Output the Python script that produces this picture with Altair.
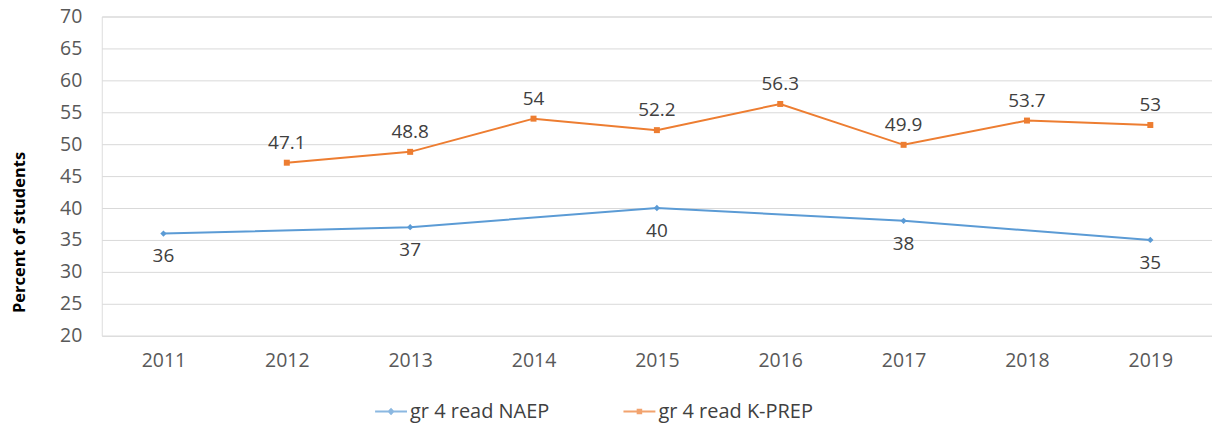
import altair as alt
import pandas as pd

years = ["2011", "2012", "2013", "2014", "2015", "2016", "2017", "2018", "2019"]
naep_years = ["2011", "2013", "2015", "2017", "2019"]
naep_values = [36, 37, 40, 38, 35]
kprep_years = ["2012", "2013", "2014", "2015", "2016", "2017", "2018", "2019"]
kprep_values = [47.1, 48.8, 54, 52.2, 56.3, 49.9, 53.7, 53]
series_names = ["gr 4 read NAEP", "gr 4 read K-PREP"]
series_colors = ["#5b9bd5", "#ed7d31"]
y_ticks = [20, 25, 30, 35, 40, 45, 50, 55, 60, 65, 70]

FONT = "Open Sans"

naep = pd.DataFrame({"year": naep_years, "value": naep_values, "series": series_names[0]})
kprep = pd.DataFrame({"year": kprep_years, "value": kprep_values, "series": series_names[1]})
df = pd.concat([naep, kprep], ignore_index=True)

x_enc = alt.X(
    "year:O",
    scale=alt.Scale(type="point", domain=years, padding=0.5),
    axis=alt.Axis(title=None, labelAngle=0, ticks=False, domain=False, grid=False,
                  labelPadding=16, labelFontSize=19.5, labelColor="#595959", labelFont=FONT),
)
y_enc = alt.Y(
    "value:Q",
    scale=alt.Scale(domain=[20, 70], nice=False, zero=False),
    axis=alt.Axis(values=y_ticks, title="Percent of students", titleFont=FONT, titleFontSize=16.5,
                  titleFontWeight="bold", titleColor="#000000", titleX=-82, titleY=216,
                  titleAngle=-90, titleAlign="center", titleBaseline="middle",
                  ticks=False, domain=False, grid=True, gridColor="#d9d9d9", gridWidth=1,
                  labelPadding=20, labelFontSize=19.5, labelColor="#595959", labelFont=FONT),
)

diamond_path = "M-1,0H1M0,-0.14L0.14,0L0,0.14L-0.14,0Z"
square_path = "M-1,0H1M-0.11,-0.11H0.11V0.11H-0.11Z"

base = alt.Chart(df)

layers = []
for name, color, dy, shape, msize in [
    (series_names[0], series_colors[0], 23, "diamond", 40),
    (series_names[1], series_colors[1], -20, "square", 36),
]:
    sub = base.transform_filter(alt.datum.series == name)
    layers.append(sub.mark_line(color=color, strokeWidth=2).encode(x=x_enc, y=y_enc))
    layers.append(sub.mark_point(color=color, filled=True, shape=shape, size=msize, opacity=1).encode(x=x_enc, y=y_enc))
    layers.append(sub.mark_text(color="#404040", dy=dy, fontSize=19, font=FONT).encode(
        x=x_enc, y=y_enc, text=alt.Text("value:Q")))

legend_spec = alt.Legend(title=None, orient="none", direction="horizontal",
                         legendX=273, legendY=379, symbolSize=1024,
                         symbolStrokeWidth=2, labelFontSize=20, labelFont=FONT,
                         labelColor="#404040", columnPadding=70, labelOffset=2)

legend_layer = base.mark_point(filled=False, size=0, strokeWidth=2).encode(
    x=x_enc, y=y_enc,
    color=alt.Color("series:N", scale=alt.Scale(domain=series_names, range=series_colors),
                    legend=legend_spec),
    shape=alt.Shape("series:N", scale=alt.Scale(domain=series_names, range=[diamond_path, square_path]),
                    legend=legend_spec),
)

chart = alt.layer(*layers, legend_layer).properties(
    width=1113, height=320,
    autosize=alt.AutoSizeParams(type="none"),
    padding={"left": 94, "top": 8, "right": 0, "bottom": 92},
).configure_view(stroke=None).configure(background="white")

chart.save("out.html", embed_options={"renderer": "svg", "actions": False})
